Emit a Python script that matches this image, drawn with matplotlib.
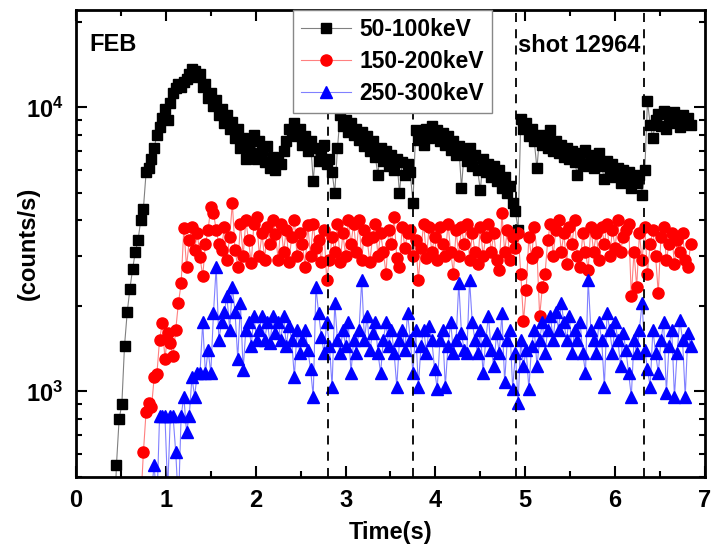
import matplotlib
matplotlib.use('Agg')
import matplotlib.pyplot as plt
import numpy as np
from matplotlib.ticker import MultipleLocator, LogLocator, NullFormatter, FixedLocator

plt.rcParams['font.family'] = ['Liberation Sans', 'DejaVu Sans']
plt.rcParams['font.weight'] = 'bold'
plt.rcParams['mathtext.fontset'] = 'custom'
plt.rcParams['mathtext.rm'] = 'Liberation Sans:bold'
plt.rcParams['mathtext.default'] = 'rm'

# sampling interval (s) and first sample time of each channel
dt = 0.03
t0_black = 0.42
t0_red = 0.72
t0_blue = 0.84

# counts/s in hundreds, 10 samples per row
black_h = [
    3, 5.5, 8, 9, 14.5, 19, 23, 27, 31, 34,          # 0.42
    40, 44, 59, 61, 66, 72, 80, 85, 92, 99,          # 0.72
    90, 104, 112, 117, 121, 118, 123, 126, 131, 137,  # 1.02
    134, 128, 131, 118, 121, 108, 112, 101, 106, 94,  # 1.32
    99, 88, 94, 84, 89, 78, 84, 72, 78, 66,          # 1.62
    74, 69, 80, 66, 76, 70, 64, 73, 61, 67,          # 1.92
    60, 66, 63, 70, 76, 84, 80, 88, 79, 84,          # 2.22
    74, 79, 70, 76, 55, 72, 65, 70, 74, 63,          # 2.52
    66, 59, 50, 72, 94, 86, 90, 82, 88, 80,          # 2.82
    84, 77, 82, 73, 79, 70, 76, 67, 58, 72,          # 3.12
    65, 70, 62, 68, 60, 66, 50, 64, 58, 63,          # 3.42
    59, 46, 83, 77, 81, 74, 84, 78, 86, 80,          # 3.72
    83, 76, 81, 74, 79, 71, 76, 68, 73, 52,          # 4.02
    70, 65, 72, 62, 68, 60, 51, 66, 59, 63,          # 4.32
    57, 62, 55, 60, 52, 57, 50, 53, 46, 43,          # 4.62
    37, 91, 84, 88, 79, 84, 76, 61, 80, 74,          # 4.92
    78, 72, 83, 70, 76, 69, 74, 67, 72, 66,          # 5.22
    70, 64, 58, 69, 63, 71, 62, 68, 61, 67,          # 5.52
    69, 62, 56, 65, 58, 63, 57, 61, 54, 60,          # 5.82
    56, 59, 52, 57, 54, 58, 49, 60, 105, 87,         # 6.12
    78, 90, 95, 86, 97, 84, 93, 88, 96, 90,          # 6.42
    85, 94, 88, 92, 87,                              # 6.72
]

red_h = [
    4, 6.1, 8.5, 9.1, 8.8, 11.2, 11.5, 15.2, 17.4, 13,        # 0.72
    16, 14.8, 13.3, 16.5, 20.5, 24, 37.5, 27.5, 34, 38,       # 1.02
    31.5, 36, 29.8, 25.4, 33, 37, 44.6, 42.5, 37, 33,         # 1.32
    31.5, 38, 29, 35, 46, 31.5, 27.5, 39, 30, 40,             # 1.62
    34, 28.3, 39, 41, 30, 36, 29, 38, 33, 40,                 # 1.92
    35.8, 29, 39, 31, 37, 28.5, 35, 40, 30, 36,               # 2.22
    33, 27.5, 38.5, 30, 39, 32, 34, 28.5, 37, 24.7,           # 2.52
    29, 35, 31, 39, 28.5, 36, 30, 40, 33, 39,                 # 2.82
    31, 40, 29, 37, 34.2, 28.5, 35, 39, 30, 36,               # 3.12
    31, 26, 37, 33, 41, 29.5, 27.5, 38, 32, 36,               # 3.42
    37, 30, 34, 24.7, 32, 39, 29.5, 38, 31, 35,               # 3.72
    29, 38, 33, 30, 39, 31, 26, 37, 30, 38,                   # 4.02
    33, 39, 29, 36, 31, 28, 38, 30, 35, 39,                   # 4.32
    31, 36, 29, 26.8, 42.5, 31, 37, 29, 35, 32,               # 4.62
    36, 26, 17.7, 22.8, 35, 29.5, 38, 31, 18.4, 23.3,         # 4.92
    26, 34, 39, 30, 37, 40, 31, 36, 28, 38,                   # 5.22
    33, 40, 30, 27.5, 36, 31, 26.8, 38, 31, 36,               # 5.52
    29, 38, 33, 39, 30, 37, 32, 40, 31, 35,                   # 5.82
    37, 39, 21.6, 31, 23.3, 36, 29, 38, 26, 33,               # 6.12
    37, 30, 22.2, 35, 38, 29, 33, 36, 28, 34,                 # 6.42
    31, 36, 29, 27.5, 33,                                     # 6.72
]

blue_h = [
    4.5, 5.5, 4, 8.2, 8.2, 8.2, 4.5, 8.2, 8.2, 6.1,           # 0.84
    4, 8.2, 9.6, 7.2, 8.2, 11.2, 9.6, 11.6, 11.6, 17.5,       # 1.14
    11.6, 14, 11.6, 18.9, 27.5, 15.2, 17.5, 19, 21.6, 16.5,   # 1.44
    23.3, 19, 13, 20.5, 11.9, 16.5, 17.5, 14.5, 18.4, 15.2,   # 1.74
    16.5, 18.4, 15.2, 17.5, 14.8, 18.4, 16, 17.5, 15.2, 18.4, # 2.04
    14.5, 17, 15.2, 11.2, 16.5, 13.7, 15.2, 16.5, 14, 12,     # 2.34
    9.6, 23.3, 18.9, 15.6, 13.7, 17.5, 14.5, 10.4, 20.5, 15.2, # 2.64
    13.7, 16.5, 14.5, 17.5, 11.6, 15.2, 13.7, 16.5, 24.7, 15.2, # 2.94
    18.4, 14, 16, 17.5, 13.7, 11.6, 15.2, 17.5, 14.5, 16.5,   # 3.24
    13.7, 10.4, 15.2, 16.5, 14, 18.9, 15.2, 11.6, 16.5, 10.4, # 3.54
    14.5, 16.5, 13.7, 17, 15.2, 12, 10.2, 15.2, 16.5, 10.4,   # 3.84
    14.5, 17.5, 13.7, 15.2, 24.1, 16, 14, 13.7, 24.7, 17.5,   # 4.14
    15.2, 13.7, 16.5, 11.6, 15.2, 18.4, 14, 12.3, 16, 13.7,   # 4.44
    18.9, 10.8, 15.2, 16.5, 10.2, 13.7, 9.1, 15.2, 12.3, 14,  # 4.74
    10.2, 14.5, 16.5, 12.3, 15.2, 17.5, 13.7, 16.5, 18.4, 15.2, # 5.04
    19, 16.5, 20.5, 17.5, 15.2, 18.4, 13.7, 16.5, 15.2, 17.5, # 5.34
    13.7, 11.6, 24.7, 16.5, 15.2, 13.7, 17.5, 15.2, 10.4, 18.9, # 5.64
    16.5, 13.7, 17.5, 15.2, 12.3, 16, 14, 11.6, 9.6, 15.2,    # 5.94
    13.7, 16.5, 20.5, 14, 12, 10.4, 16.5, 13.7, 11.6, 15.2,   # 6.24
    17.5, 9.9, 14.5, 16.5, 9.6, 13.7, 17.9, 15.2, 9.6, 16,    # 6.54
    14.5,                                                     # 6.84
]

labels = ['50-100keV', '150-200keV', '250-300keV']
sawtooth_t = [2.80, 3.75, 4.90, 6.32]

black = np.array(black_h) * 100
red = np.array(red_h) * 100
blue = np.array(blue_h) * 100
t_black = t0_black + dt * np.arange(len(black))
t_red = t0_red + dt * np.arange(len(red))
t_blue = t0_blue + dt * np.arange(len(blue))

fig = plt.figure(figsize=(7.15, 5.59), dpi=100)
ax = fig.add_axes([0.1063, 0.1467, 0.8797, 0.8353])

ax.plot(t_black, black, color='#808080', lw=0.8, marker='s', ms=7,
        mfc='black', mec='black', label=labels[0])
ax.plot(t_red, red, color='#ff8080', lw=0.8, marker='o', ms=8,
        mfc='red', mec='red', label=labels[1])
ax.plot(t_blue, blue, color='#8080ff', lw=0.8, marker='^', ms=8,
        mfc='blue', mec='blue', label=labels[2])

for x in sawtooth_t:
    ax.axvline(x, color='black', lw=1.3, ls=(0, (5, 4)))

ax.set_yscale('log')
ax.set_xlim(0, 7)
ax.set_ylim(500, 22000)
ax.xaxis.set_major_locator(MultipleLocator(1))
ax.xaxis.set_minor_locator(MultipleLocator(0.5))
ax.yaxis.set_major_locator(FixedLocator([1e3, 1e4]))
ax.set_yticklabels([r'$10^{3}$', r'$10^{4}$'])
ax.yaxis.set_minor_locator(LogLocator(base=10, subs=np.arange(2, 10)))
ax.yaxis.set_minor_formatter(NullFormatter())

ax.tick_params(which='both', direction='in', top=True, right=True, width=1.5)
ax.tick_params(which='major', length=8, labelsize=17, pad=9)
ax.tick_params(which='minor', length=4)
for s in ax.spines.values():
    s.set_linewidth(2)

ax.set_xlabel('Time(s)', fontsize=17, fontweight='bold', labelpad=6)
ax.set_ylabel('(counts/s)', fontsize=17, fontweight='bold')
ax.yaxis.set_label_coords(-0.058, 0.5)

ax.text(0.022, 0.927, 'FEB', transform=ax.transAxes, fontsize=17,
        fontweight='bold', va='center', ha='left')
ax.text(0.703, 0.925, 'shot 12964', transform=ax.transAxes, fontsize=17,
        fontweight='bold', va='center', ha='left')

ax.legend(loc='upper left', bbox_to_anchor=(0.345, 1.0), borderaxespad=0,
          fancybox=False, edgecolor='#888888', framealpha=1,
          prop={'weight': 'bold', 'size': 16.5}, handlelength=2.2,
          handletextpad=0.35, labelspacing=0.4, borderpad=0.35)

fig.savefig('out.png', dpi=100)
